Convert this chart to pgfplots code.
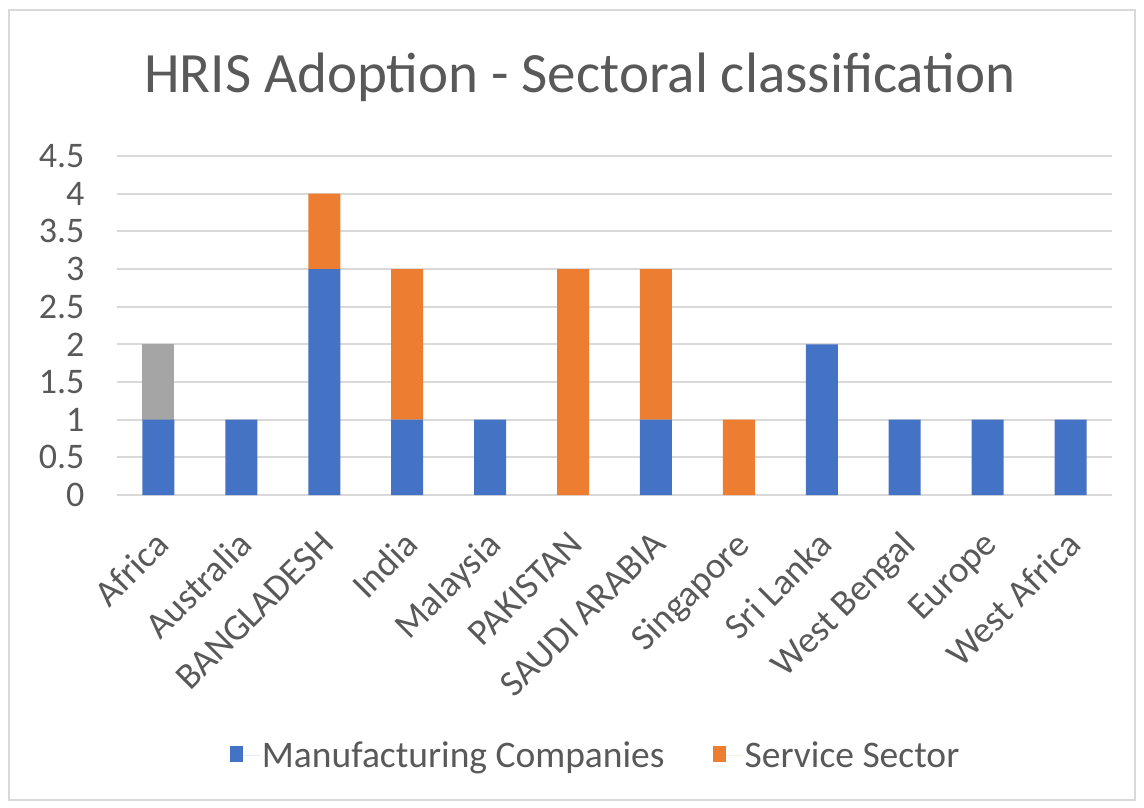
\documentclass[border=0pt]{standalone}
\usepackage{pgfplots}
\pgfplotsset{compat=1.18}
\usepackage{fontspec}
\setmainfont{Carlito}
\definecolor{cblue}{HTML}{4472C4}
\definecolor{corange}{HTML}{ED7D31}
\definecolor{cgray}{HTML}{A5A5A5}
\definecolor{cgrid}{HTML}{D9D9D9}
\definecolor{ctext}{HTML}{595959}
\begin{document}
\begin{tikzpicture}[x=1pt,y=1pt]
\path[use as bounding box] (0,0) rectangle (1144,807);
\draw[cgrid, line width=2pt] (9,7) rectangle (1135,797);
\node[ctext, font=\fontsize{57}{64}\selectfont] at (580,730) {HRIS Adoption - Sectoral classification};
\begin{axis}[
  at={(117pt,312pt)}, anchor=south west,
  scale only axis, width=995pt, height=339pt,
  ybar stacked, bar width=32pt,
  xmin=-0.5, xmax=11.5, ymin=0, ymax=4.5,
  ytick={0,0.5,...,4.5},
  yticklabels={0,0.5,1,1.5,2,2.5,3,3.5,4,4.5},
  xtick={0,...,11},
  xticklabels={Africa,Australia,BANGLADESH,India,Malaysia,PAKISTAN,SAUDI ARABIA,Singapore,Sri Lanka,West Bengal,Europe,West Africa},
  xticklabel style={rotate=45, anchor=north east, font=\fontsize{37}{42}\selectfont, text=ctext, inner sep=1pt, xshift=-27pt, yshift=-19pt},
  yticklabel style={font=\fontsize{36}{42}\selectfont, text=ctext, xshift=-29pt},
  major tick length=0pt,
  axis line style={draw=none},
  ymajorgrids, grid style={cgrid, line width=2pt},
  legend style={at={(0.481,-0.767)}, anchor=center, draw=none, legend columns=2, font=\fontsize{37.5}{42}\selectfont, text=ctext, /tikz/every even column/.append style={column sep=46pt}},
  legend image code/.code={\fill[#1] (0pt,-7pt) rectangle (13pt,9pt); \path (0pt,0pt) -- (30pt,0pt);},
]
\addplot[fill=cblue, draw=none] coordinates {(0,1) (1,1) (2,3) (3,1) (4,1) (5,0) (6,1) (7,0) (8,2) (9,1) (10,1) (11,1)};
\addlegendentry{Manufacturing Companies}
\addplot[fill=corange, draw=none] coordinates {(0,0) (1,0) (2,1) (3,2) (4,0) (5,3) (6,2) (7,1) (8,0) (9,0) (10,0) (11,0)};
\addlegendentry{Service Sector}
\addplot[fill=cgray, draw=none, forget plot] coordinates {(0,1) (1,0) (2,0) (3,0) (4,0) (5,0) (6,0) (7,0) (8,0) (9,0) (10,0) (11,0)};
\end{axis}
\end{tikzpicture}
\end{document}
